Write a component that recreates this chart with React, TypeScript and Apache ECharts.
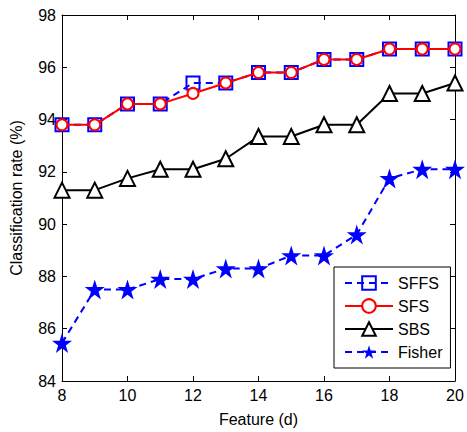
import React, { useEffect, useRef } from "react";
import * as echarts from "echarts";

const features = [8, 9, 10, 11, 12, 13, 14, 15, 16, 17, 18, 19, 20];
const sffs = [93.8, 93.8, 94.6, 94.6, 95.4, 95.4, 95.8, 95.8, 96.3, 96.3, 96.7, 96.7, 96.7];
const sfs = [93.8, 93.8, 94.6, 94.6, 95.0, 95.4, 95.8, 95.8, 96.3, 96.3, 96.7, 96.7, 96.7];
const sbs = [91.3, 91.3, 91.75, 92.1, 92.1, 92.5, 93.35, 93.35, 93.8, 93.8, 95.0, 95.0, 95.4];
const fisher = [85.45, 87.5, 87.5, 87.9, 87.9, 88.3, 88.3, 88.8, 88.8, 89.6, 91.75, 92.1, 92.1];

const STAR = "path://M50,0 L61.2,34.5 L97.6,34.5 L68.2,55.9 L79.4,90.5 L50,69.1 L20.6,90.5 L31.8,55.9 L2.4,34.5 L38.8,34.5 Z";
const FONT = "Liberation Sans, Arial, sans-serif";

const pts = (ys: number[]) => features.map((x, i) => [x, ys[i]]);

export default function App() {
  const ref = useRef<HTMLDivElement>(null);
  useEffect(() => {
    const chart = echarts.init(ref.current!, null, { renderer: "svg" });
    const axisCommon = {
      axisLine: { show: true, lineStyle: { color: "#000", width: 1 } },
      axisTick: { show: true, inside: true, length: 5, lineStyle: { color: "#000" } },
      splitLine: { show: false },
    };
    chart.setOption({
      animation: false,
      backgroundColor: "#fff",
      textStyle: { fontFamily: FONT, color: "#000" },
      grid: { left: 62, top: 15, right: 12, bottom: 49, show: false },
      legend: {
        orient: "vertical",
        left: 334,
        top: 267,
        width: 116,
        padding: [8, 8, 8, 10],
        itemGap: 7,
        itemWidth: 48,
        itemHeight: 17,
        borderColor: "#000",
        borderWidth: 1,
        backgroundColor: "#fff",
        textStyle: { fontFamily: FONT, fontSize: 16, color: "#000" },
        data: ["SFFS", "SFS", "SBS", "Fisher"],
      },
      xAxis: [
        {
          type: "value",
          min: 8,
          max: 20,
          interval: 2,
          name: "Feature (d)",
          nameLocation: "middle",
          nameGap: 30,
          nameTextStyle: { fontFamily: FONT, fontSize: 16, color: "#000" },
          axisLabel: { fontFamily: FONT, fontSize: 16, color: "#000", margin: 6 },
          ...axisCommon,
        },
        {
          type: "value",
          position: "top",
          min: 8,
          max: 20,
          interval: 2,
          axisLabel: { show: false },
          ...axisCommon,
        },
      ],
      yAxis: [
        {
          type: "value",
          min: 84,
          max: 98,
          interval: 2,
          name: "Classification rate (%)",
          nameLocation: "middle",
          nameGap: 38,
          nameTextStyle: { fontFamily: FONT, fontSize: 16, color: "#000" },
          axisLabel: { fontFamily: FONT, fontSize: 16, color: "#000", margin: 6 },
          ...axisCommon,
        },
        {
          type: "value",
          position: "right",
          min: 84,
          max: 98,
          interval: 2,
          axisLabel: { show: false },
          ...axisCommon,
        },
      ],
      series: [
        {
          name: "SFFS",
          type: "line",
          data: pts(sffs),
          symbol: "rect",
          symbolSize: 13,
          lineStyle: { color: "#0000ff", width: 2, type: [7, 5] },
          itemStyle: { color: "rgba(0,0,255,0)", borderColor: "#0000ff", borderWidth: 2 },
          z: 2,
        },
        {
          name: "SFS",
          type: "line",
          data: pts(sfs),
          symbol: "emptyCircle",
          symbolSize: 11,
          lineStyle: { color: "#ff0000", width: 2 },
          itemStyle: { color: "#ff0000", borderColor: "#ff0000", borderWidth: 2 },
          z: 3,
        },
        {
          name: "SBS",
          type: "line",
          data: pts(sbs),
          symbol: "emptyTriangle",
          symbolSize: 15,
          lineStyle: { color: "#000", width: 2 },
          itemStyle: { color: "#000", borderColor: "#000", borderWidth: 2 },
          z: 2,
        },
        {
          name: "Fisher",
          type: "line",
          data: pts(fisher),
          symbol: STAR,
          symbolSize: 20,
          lineStyle: { color: "#0000ff", width: 2, type: [7, 5] },
          itemStyle: { color: "#0000ff" },
          z: 2,
        },
      ],
    });
    return () => chart.dispose();
  }, []);
  return (
    <div
      ref={ref}
      style={{ position: "absolute", left: 0, top: 0, width: 467, height: 432 }}
    />
  );
}
